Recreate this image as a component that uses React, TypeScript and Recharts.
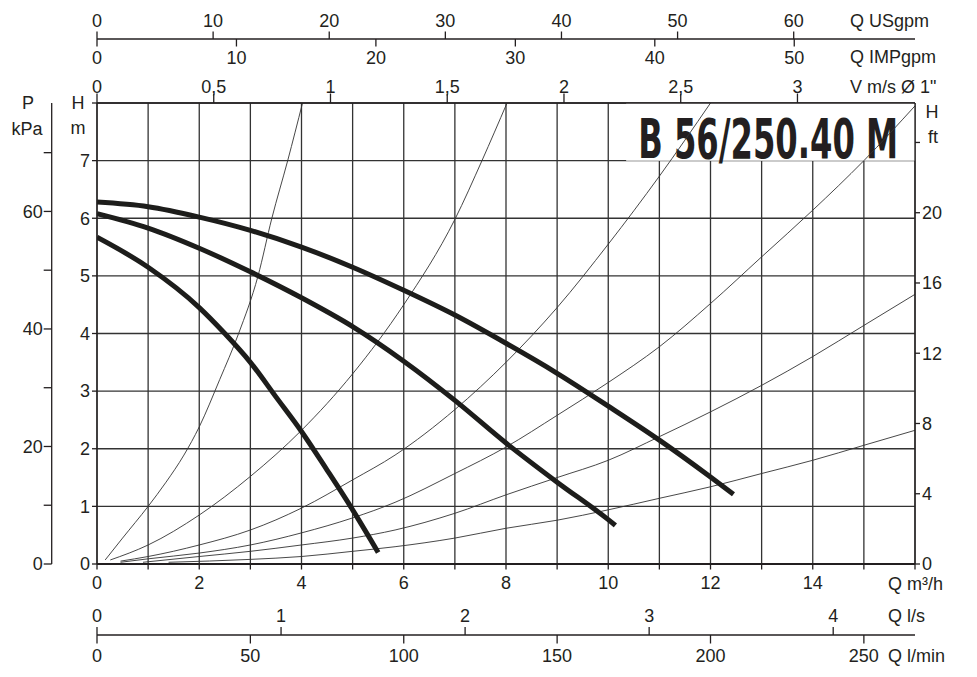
import { ComposedChart, Line, XAxis, YAxis, CartesianGrid, ReferenceArea } from "recharts";

const FONT = "'Liberation Sans', Arial, Helvetica, sans-serif";
const INK = "#231f20";

// pump curves, flow in m3/h and head in m
const speed1Q = [0, 1, 2, 2.5, 3, 3.5, 4, 4.5, 5, 5.5];
const speed1H = [5.67, 5.15, 4.45, 4.0, 3.5, 2.9, 2.3, 1.63, 0.94, 0.2];
const speed2Q = [0, 1, 2, 3, 4, 5, 6, 7, 8, 9, 10, 10.14];
const speed2H = [6.08, 5.83, 5.48, 5.07, 4.62, 4.12, 3.52, 2.84, 2.1, 1.42, 0.77, 0.67];
const speed3Q = [0, 1, 2, 3, 4, 5, 6, 7, 8, 9, 10, 11, 12, 12.45];
const speed3H = [6.28, 6.2, 6.02, 5.79, 5.5, 5.15, 4.75, 4.32, 3.83, 3.31, 2.74, 2.15, 1.51, 1.21];

// system curves (thin)
const sysAQ = [0.16, 0.5, 1, 1.35, 1.7, 2, 2.4, 2.77, 3.15, 3.42, 3.73, 4.02];
const sysAH = [0.07, 0.45, 1.0, 1.42, 1.89, 2.38, 3.2, 4.0, 5.0, 6.0, 7.0, 8.0];
const sysBQ = [0.26, 1, 2, 3, 4, 5, 6, 7, 7.53, 8.02];
const sysBH = [0.07, 0.33, 0.85, 1.52, 2.32, 3.3, 4.5, 5.98, 7.0, 8.0];
const sysCQ = [0.46, 1, 2, 3, 4, 5, 5.83, 7, 8, 9, 10, 11, 12];
const sysCH = [0.05, 0.13, 0.33, 0.59, 0.97, 1.46, 1.89, 2.68, 3.5, 4.45, 5.55, 6.73, 8.0];
const sysDQ = [0.46, 1, 2, 3, 4, 5, 5.83, 7, 8, 9, 10, 11, 12, 13, 14, 15, 16];
const sysDH = [0.03, 0.09, 0.19, 0.33, 0.54, 0.8, 1.07, 1.57, 2.03, 2.58, 3.15, 3.77, 4.52, 5.33, 6.14, 7.0, 7.95];
const sysEQ = [0.9, 2, 3, 4, 5, 5.83, 7, 8, 9, 10, 11, 12, 13, 14, 15, 16];
const sysEH = [0.03, 0.13, 0.22, 0.33, 0.45, 0.59, 0.88, 1.2, 1.5, 1.8, 2.21, 2.64, 3.1, 3.6, 4.14, 4.68];
const sysFQ = [1.4, 3, 4, 5, 5.83, 7, 8, 9, 10, 11, 12, 13, 14, 15, 16];
const sysFH = [0.03, 0.08, 0.13, 0.22, 0.3, 0.45, 0.62, 0.76, 0.94, 1.14, 1.34, 1.57, 1.8, 2.06, 2.32];

// axis ticks
const qTicks = [0, 1, 2, 3, 4, 5, 6, 7, 8, 9, 10, 11, 12, 13, 14, 15, 16];
const hTicks = [0, 1, 2, 3, 4, 5, 6, 7, 8];
const usgpmTicks = [0, 10, 20, 30, 40, 50, 60];
const impgpmTicks = [0, 10, 20, 30, 40, 50];
const velTicks = [0, 0.5, 1, 1.5, 2, 2.5, 3];
const lsTicks = [0, 1, 2, 3, 4];
const lminTicks = [0, 50, 100, 150, 200, 250];
const kpaTicks = [0, 10, 20, 30, 40, 50, 60, 70];
const ftTicks = [0, 4, 8, 12, 16, 20, 24];

// unit factors relative to m3/h and m
const US_PER_M3H = 4.4029;
const IMP_PER_M3H = 3.6662;
const M3H_PER_MS = 4.567; // 1" pipe
const M3H_PER_LS = 3.6;
const M3H_PER_LMIN = 0.06;
const KPA_PER_M = 9.80665;
const M_PER_FT = 0.3048;

const Q_MAX = 16;
const H_MAX = 8;

const rows = (q: number[], h: number[]) => q.map((x, i) => ({ q: x, h: h[i] }));

// flow scale in every unit, so the secondary axes share the main range
const flowScale = qTicks.map((q) => ({
  q,
  us: q * US_PER_M3H,
  imp: q * IMP_PER_M3H,
  vel: q / M3H_PER_MS,
  ls: q / M3H_PER_LS,
  lmin: q / M3H_PER_LMIN,
}));
const pumpCurves = [rows(speed1Q, speed1H), rows(speed2Q, speed2H), rows(speed3Q, speed3H)];
const sysCurves = [
  rows(sysAQ, sysAH),
  rows(sysBQ, sysBH),
  rows(sysCQ, sysCH),
  rows(sysDQ, sysDH),
  rows(sysEQ, sysEH),
  rows(sysFQ, sysFH),
];

const comma = (v: number) => String(v).replace(".", ",");

const txt = { fontSize: 18, fontFamily: FONT, fill: INK };

// x-axis tick: mark from y+from to y+to, label centred at y+label
function xTick(from: number, to: number, label: number, fmt: (v: number) => string) {
  return (p: any) => {
    const s = fmt(p.payload.value);
    return (
      <g>
        <line x1={p.x} x2={p.x} y1={p.y + from} y2={p.y + to} stroke={INK} strokeWidth={1.3} />
        {s !== "" && (
          <text x={p.x} y={p.y + label} dy="0.35em" textAnchor="middle" {...txt}>
            {s}
          </text>
        )}
      </g>
    );
  };
}

function yTick(len: number, label: number, anchor: "start" | "end", fmt: (v: number) => string) {
  return (p: any) => {
    const s = fmt(p.payload.value);
    return (
      <g>
        <line x1={p.x} x2={p.x + len} y1={p.y} y2={p.y} stroke={INK} strokeWidth={1.3} />
        {s !== "" && (
          <text x={p.x + label} y={p.y} dy="0.35em" textAnchor={anchor} {...txt}>
            {s}
          </text>
        )}
      </g>
    );
  };
}

type TitleLine = { t: string; dx: number; dy: number; anchor?: "start" | "middle" };
function title(lines: TitleLine[]) {
  return (p: any) => {
    const vb = p.viewBox || { x: 0, y: 0 };
    return (
      <g>
        {lines.map((l, i) => (
          <text key={i} x={vb.x + l.dx} y={vb.y + l.dy} dy="0.35em" textAnchor={l.anchor || "start"} {...txt}>
            {l.t}
          </text>
        ))}
      </g>
    );
  };
}

const boxTitle = (p: any) => {
  const vb = p.viewBox;
  return (
    <text
      x={vb.x + 12}
      y={vb.y + 55}
      textLength={260}
      lengthAdjust="spacingAndGlyphs"
      fontFamily="'Liberation Sans Narrow', 'DejaVu Sans Condensed', 'Liberation Sans', sans-serif"
      fontWeight={700}
      fontSize={55}
      fill={INK}
    >
      B 56/250.40 M
    </text>
  );
};

const axisLine = { stroke: INK, strokeWidth: 1.3 };

// axis ids sort alphabetically into their stacking order (nearest the plot first)
export default function App() {
  return (
    <div style={{ position: "absolute", left: 0, top: 0, width: 977, height: 677, background: "#fff" }}>
      <ComposedChart width={977} height={677} data={flowScale} margin={{ top: 0, right: 0, bottom: 2, left: 0 }}>
        <CartesianGrid xAxisId="b1q" yAxisId="l1h" stroke="#333" strokeWidth={1.3} fill="none" />

        {sysCurves.map((d, i) => (
          <Line
            key={`s${i}`}
            data={d}
            xAxisId="b1q"
            yAxisId="l1h"
            dataKey="h"
            type="monotone"
            stroke="#333"
            strokeWidth={0.9}
            dot={false}
            activeDot={false}
            isAnimationActive={false}
          />
        ))}
        {pumpCurves.map((d, i) => (
          <Line
            key={`p${i}`}
            data={d}
            xAxisId="b1q"
            yAxisId="l1h"
            dataKey="h"
            type="monotone"
            stroke="#1d1d1b"
            strokeWidth={5}
            strokeLinecap="butt"
            dot={false}
            activeDot={false}
            isAnimationActive={false}
          />
        ))}

        <ReferenceArea
          xAxisId="b1q"
          yAxisId="l1h"
          x1={10.35}
          x2={16}
          y1={7}
          y2={8}
          fill="#fff"
          fillOpacity={1}
          stroke="none"
          ifOverflow="visible"
          label={boxTitle}
        />

        {/* bottom axes */}
        <XAxis
          xAxisId="b1q"
          dataKey="q"
          type="number"
          orientation="bottom"
          domain={[0, Q_MAX]}
          allowDataOverflow
          ticks={qTicks}
          interval={0}
          height={44}
          tickSize={0}
          tickMargin={0}
          tickLine={false}
          axisLine={{ stroke: INK, strokeWidth: 1.8 }}
          tick={xTick(0, 5.5, 18.5, (v) => (v % 2 === 0 && v < 16 ? String(v) : ""))}
          label={title([{ t: "Q m³/h", dx: 791, dy: 20 }])}
        />
        <XAxis
          xAxisId="b2ls"
          dataKey="ls"
          type="number"
          orientation="bottom"
          domain={[0, Q_MAX / M3H_PER_LS]}
          allowDataOverflow
          ticks={lsTicks}
          interval={0}
          height={27}
          tickSize={0}
          tickMargin={0}
          tickLine={false}
          axisLine={false}
          tick={xTick(19, 27, 8, (v) => String(v))}
          label={title([{ t: "Q l/s", dx: 791, dy: 8 }])}
        />
        <XAxis
          xAxisId="b3lmin"
          dataKey="lmin"
          type="number"
          orientation="bottom"
          domain={[0, Q_MAX / M3H_PER_LMIN]}
          allowDataOverflow
          ticks={lminTicks}
          interval={0}
          height={40}
          tickSize={0}
          tickMargin={0}
          tickLine={false}
          axisLine={axisLine}
          tick={xTick(0, 8.5, 20.5, (v) => String(v))}
          label={title([{ t: "Q l/min", dx: 791, dy: 21 }])}
        />

        {/* top axes */}
        <XAxis
          xAxisId="t1vel"
          dataKey="vel"
          type="number"
          orientation="top"
          domain={[0, Q_MAX / M3H_PER_MS]}
          allowDataOverflow
          ticks={velTicks}
          interval={0}
          height={46}
          tickSize={0}
          tickMargin={0}
          tickLine={false}
          axisLine={axisLine}
          tick={xTick(0, -9.5, -16.5, comma)}
          label={title([{ t: 'V m/s Ø 1"', dx: 753, dy: 29.5 }])}
        />
        <XAxis
          xAxisId="t2imp"
          dataKey="imp"
          type="number"
          orientation="top"
          domain={[0, Q_MAX * IMP_PER_M3H]}
          allowDataOverflow
          ticks={impgpmTicks}
          interval={0}
          height={18}
          tickSize={0}
          tickMargin={0}
          tickLine={false}
          axisLine={false}
          tick={xTick(-18, -10.5, 0.3, (v) => String(v))}
          label={title([{ t: "Q IMPgpm", dx: 753, dy: 18 }])}
        />
        <XAxis
          xAxisId="t3us"
          dataKey="us"
          type="number"
          orientation="top"
          domain={[0, Q_MAX * US_PER_M3H]}
          allowDataOverflow
          ticks={usgpmTicks}
          interval={0}
          height={39}
          tickSize={0}
          tickMargin={0}
          tickLine={false}
          axisLine={axisLine}
          tick={xTick(0, -7.5, -18.5, (v) => String(v))}
          label={title([{ t: "Q USgpm", dx: 753, dy: 20.5 }])}
        />

        {/* left axes */}
        <YAxis
          yAxisId="l1h"
          type="number"
          orientation="left"
          domain={[0, H_MAX]}
          allowDataOverflow
          ticks={hTicks}
          interval={0}
          width={45.3}
          tickSize={0}
          tickMargin={0}
          tickLine={false}
          axisLine={axisLine}
          tick={yTick(-5, -7, "end", (v) => (v < 8 ? String(v) : ""))}
          label={title([
            { t: "H", dx: 26.3, dy: 0, anchor: "middle" },
            { t: "m", dx: 26.3, dy: 25, anchor: "middle" },
          ])}
        />
        <YAxis
          yAxisId="l2kpa"
          type="number"
          orientation="left"
          domain={[0, H_MAX * KPA_PER_M]}
          allowDataOverflow
          ticks={kpaTicks}
          interval={0}
          width={51.7}
          tickSize={0}
          tickMargin={0}
          tickLine={false}
          axisLine={axisLine}
          tick={yTick(-8, -9, "end", (v) => (v % 20 === 0 ? String(v) : ""))}
          label={title([
            { t: "P", dx: 28, dy: 0, anchor: "middle" },
            { t: "kPa", dx: 27, dy: 26, anchor: "middle" },
          ])}
        />

        {/* right axis */}
        <YAxis
          yAxisId="r1ft"
          type="number"
          orientation="right"
          domain={[0, H_MAX / M_PER_FT]}
          allowDataOverflow
          ticks={ftTicks}
          interval={0}
          width={62}
          tickSize={0}
          tickMargin={0}
          tickLine={false}
          axisLine={axisLine}
          tick={yTick(5, 7, "start", (v) => (v < 24 ? String(v) : ""))}
          label={title([
            { t: "H", dx: 17, dy: 9, anchor: "middle" },
            { t: "ft", dx: 18, dy: 34, anchor: "middle" },
          ])}
        />
      </ComposedChart>
    </div>
  );
}
